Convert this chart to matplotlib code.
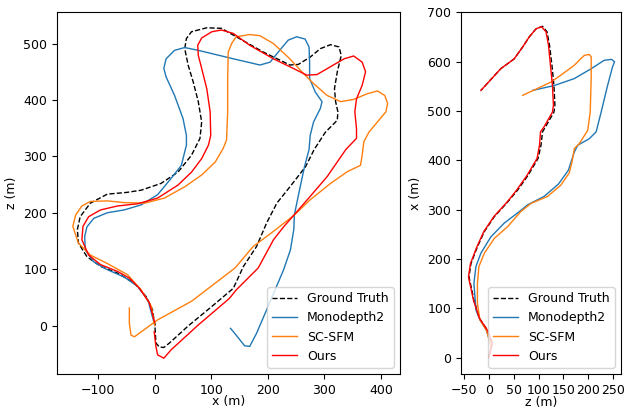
import matplotlib
matplotlib.use('Agg')
import matplotlib.pyplot as plt

# ---- 左图: x-z 轨迹 ----
gt_x = [0, -4, -15, -36, -66, -96, -120, -135, -137, -132, -114, -84, -50, -24, 11, 41, 65, 80, 83, 77,
        68, 59, 53, 56, 65, 92, 118, 139, 192, 239, 254, 275, 293, 311, 326, 330, 323, 318, 320, 324,
        323, 302, 282, 267, 240, 216, 198, 180, 157, 139, 100, 60, 26, 16, 8, 2, 0]
gt_z = [0, 28, 51, 75, 93, 105, 122, 146, 170, 193, 217, 233, 236, 240, 252, 272, 302, 332, 361, 397,
        432, 462, 491, 509, 521, 528, 527, 515, 485, 462, 463, 476, 491, 498, 494, 479, 450, 420, 397, 379,
        364, 343, 312, 282, 247, 217, 182, 140, 105, 66, 33, 0, -31, -39, -38, -31, 4]

mono_x = [0, -12, -30, -54, -84, -108, -123, -124, -120, -108, -84, -54, -24, 5, 29, 47, 56, 56, 50, 35,
          20, 16, 20, 35, 53, 77, 139, 186, 204, 221, 236, 251, 266, 273, 274, 274, 284, 296, 293, 281,
          275, 273, 265, 255, 247, 246, 240, 228, 198, 180, 168, 159, 144, 134]
mono_z = [0, 45, 69, 86, 99, 113, 134, 158, 175, 190, 200, 205, 214, 232, 261, 284, 320, 337, 367, 408,
          441, 456, 473, 488, 493, 488, 473, 462, 467, 488, 506, 512, 508, 494, 467, 438, 414, 397, 385, 361,
          337, 312, 282, 235, 196, 170, 134, 99, 28, -14, -37, -36, -17, -5]

sc_x = [0, -6, -24, -48, -84, -114, -135, -145, -140, -129, -114, -84, -54, -18, 17, 53, 83, 107, 121, 127,
        129, 129, 130, 136, 144, 168, 186, 210, 239, 263, 281, 305, 329, 352, 376, 394, 407, 412, 409, 394,
        379, 370, 367, 364, 341, 311, 275, 247, 210, 174, 142, 65, 5, -36, -42, -45, -45]
sc_z = [0, 34, 63, 90, 110, 125, 146, 176, 196, 212, 220, 221, 218, 217, 226, 246, 267, 290, 314, 329,
        379, 438, 485, 500, 512, 516, 514, 500, 473, 447, 429, 408, 397, 401, 411, 416, 408, 394, 379, 361,
        343, 326, 302, 284, 273, 252, 223, 196, 167, 140, 102, 43, 10, -20, -17, 4, 31]

our_x = [0, -9.5, -27, -45, -66, -96, -117, -129, -127, -117, -96, -66, -30, 5, 41, 65, 83, 95, 99, 98,
         92, 83, 77, 76, 83, 101, 118, 139, 168, 210, 245, 269, 287, 311, 335, 352, 367, 373, 367, 357,
         354, 357, 357, 338, 305, 275, 249, 228, 210, 183, 144, 132, 77, 29, 16, 5, 2, -1]
our_z = [5, 40, 66, 84, 96, 108, 125, 152, 176, 193, 205, 212, 216, 226, 249, 272, 296, 320, 337, 379,
         420, 456, 479, 497, 510, 521, 524, 518, 497, 473, 456, 444, 445, 459, 473, 478, 467, 450, 426, 402,
         379, 349, 332, 312, 264, 229, 199, 175, 152, 102, 63, 48, 1, -43, -58, -52, -37, -11]

# ---- 右图: z-x 轨迹 ----
gt2_z = [0, 7, -3, -19, -30, -40, -36, -23, -9, 11, 38, 58, 79, 99, 105, 108, 114, 131, 133, 131,
         127, 122, 117, 108, 95, 81, 68, 51, 24, -16]
gt2_x = [2, 29, 56, 80, 117, 164, 191, 225, 256, 286, 316, 340, 370, 404, 431, 458, 468, 498, 512, 552,
         593, 634, 661, 672, 667, 650, 630, 606, 586, 542]

mono2_z = [0, 5, -5, -18, -26, -29, -30, -26, -16, 4, 31, 61, 78, 111, 140, 160, 172, 179, 202, 216,
           226, 239, 249, 253, 247, 232, 206, 172, 132, 88]
mono2_x = [0, 22, 56, 77, 97, 137, 151, 185, 212, 245, 273, 296, 310, 327, 352, 380, 417, 431, 444, 458,
           498, 552, 590, 600, 605, 603, 586, 566, 552, 542]

sc2_z = [0, 5, -5, -18, -23, -23, -20, -9, 11, 38, 64, 85, 118, 145, 162, 168, 172, 182, 199, 204,
         206, 206, 202, 192, 172, 145, 125, 98, 68]
sc2_x = [0, 22, 56, 77, 110, 151, 185, 212, 242, 266, 296, 313, 327, 350, 375, 400, 424, 434, 461, 498,
         566, 610, 615, 613, 593, 573, 559, 546, 532]

our2_z = [0, 7, -3, -19, -31, -41, -37, -24, -10, 10, 37, 56, 77, 97, 102, 104, 111, 128, 130, 128,
          124, 120, 115, 106, 95, 81, 68, 51, 24, -16]
our2_x = [2, 29, 56, 80, 117, 164, 191, 225, 256, 286, 316, 340, 370, 404, 431, 458, 468, 498, 512, 552,
          593, 634, 661, 671, 667, 650, 630, 606, 586, 542]

labels = ['Ground Truth', 'Monodepth2', 'SC-SFM', 'Ours']

plt.rcParams['font.size'] = 9
fig = plt.figure(figsize=(6.42, 4.08), dpi=100)

ax1 = fig.add_axes([0.0888, 0.0833, 0.5343, 0.8873])
ax1.plot(gt_x, gt_z, 'k--', lw=1, label=labels[0])
ax1.plot(mono_x, mono_z, color='#1f77b4', lw=1, label=labels[1])
ax1.plot(sc_x, sc_z, color='#ff7f0e', lw=1, label=labels[2])
ax1.plot(our_x, our_z, color='r', lw=1, label=labels[3])
ax1.set_xlim(-173, 434)
ax1.set_ylim(-86, 556)
ax1.set_xticks([-100, 0, 100, 200, 300, 400])
ax1.set_yticks([0, 100, 200, 300, 400, 500])
ax1.set_xlabel('x (m)', labelpad=-1.5)
ax1.set_ylabel('z (m)')
ax1.legend(loc='lower right')

ax2 = fig.add_axes([0.7181, 0.0833, 0.2492, 0.8873])
ax2.plot(gt2_z, gt2_x, 'k--', lw=1, label=labels[0])
ax2.plot(mono2_z, mono2_x, color='#1f77b4', lw=1, label=labels[1])
ax2.plot(sc2_z, sc2_x, color='#ff7f0e', lw=1, label=labels[2])
ax2.plot(our2_z, our2_x, color='r', lw=1, label=labels[3])
ax2.set_xlim(-56, 266)
ax2.set_ylim(-33, 701)
ax2.set_xticks([-50, 0, 50, 100, 150, 200, 250])
ax2.set_yticks([0, 100, 200, 300, 400, 500, 600, 700])
ax2.set_xlabel('z (m)', labelpad=-0.8)
ax2.set_ylabel('x (m)')
ax2.legend(loc='lower right')

fig.savefig('out.png', dpi=100)
